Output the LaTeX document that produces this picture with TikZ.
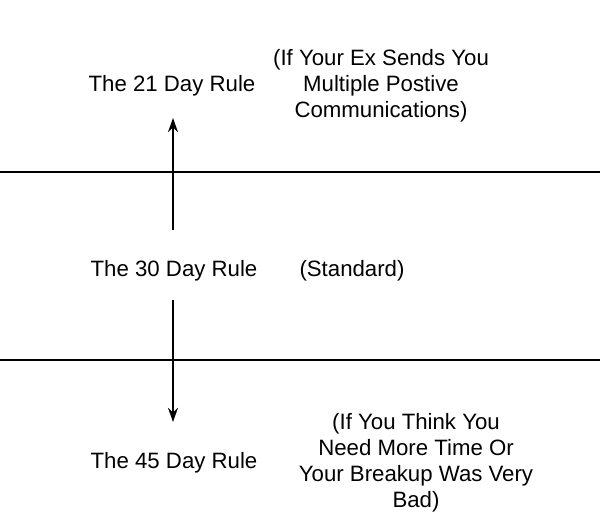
\documentclass[tikz,border=0pt]{standalone}
\usepackage{fontspec}
\setmainfont{Liberation Sans}
\usetikzlibrary{arrows.meta}
\begin{document}
\begin{tikzpicture}[x=0.025cm,y=-0.025cm,
  rule/.style={font=\fontsize{15.8}{18.5}\selectfont, align=center},
  band/.style={line width=1.5pt},
  arr/.style={-{Stealth[length=10pt,width=7pt]}, line width=1.5pt}
]
  \useasboundingbox (0,0) rectangle (600,524);
  \node[rule] (r21) at (172,86) {The 21 Day Rule};
  \node[rule] (n21) at (381,86) {(If Your Ex Sends You\\Multiple Postive\\Communications)};
  \node[rule] (r30) at (174,271) {The 30 Day Rule};
  \node[rule] (n30) at (352,271) {(Standard)};
  \node[rule] (r45) at (174,463) {The 45 Day Rule};
  \node[rule] (n45) at (416,463) {(If You Think You\\Need More Time Or\\Your Breakup Was Very\\Bad)};
  \coordinate (l1a) at (0,172);
  \coordinate (l1b) at (600,172);
  \coordinate (l2a) at (0,360);
  \coordinate (l2b) at (600,360);
  \draw[band] (l1a) -- (l1b);
  \draw[band] (l2a) -- (l2b);
  \coordinate (upS) at (173,230);
  \coordinate (upE) at (173,118);
  \coordinate (dnS) at (173,300);
  \coordinate (dnE) at (173,422);
  \draw[arr] (upS) -- (upE);
  \draw[arr] (dnS) -- (dnE);
\end{tikzpicture}
\end{document}
